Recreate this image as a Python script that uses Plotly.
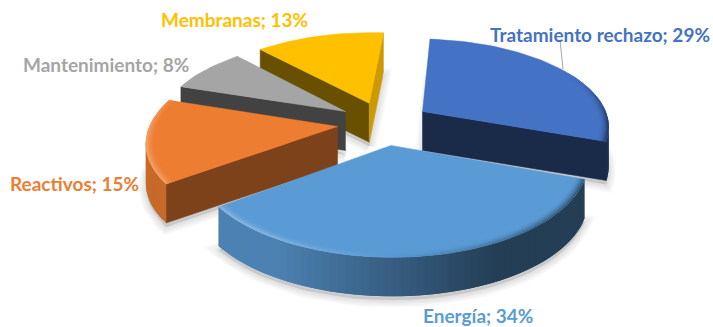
import math
import plotly.graph_objects as go

# Cost breakdown
categories = ["Tratamiento rechazo", "Energía", "Reactivos", "Mantenimiento", "Membranas"]
values = [29, 34, 15, 8, 13]

# Office palette, one colour per slice
colors = ["#4472C4", "#5B9BD5", "#ED7D31", "#A5A5A5", "#FFC000"]
# Brightness of the cut faces: (edge at slice start, edge at slice end)
cut_shades = [(0.38, 0.38), (0.5, 0.5), (0.53, 0.53), (0.40, 0.40), (0.41, 0.80)]
label_pos = [(490, 34), (423, 315), (10, 183), (23, 64), (161, 19)]

# Perspective camera for the pie plane
CX, CY = 384, 123
RX, RY = 187, 87
PERSP = 0.154
EXPLODE = 0.25
DEPTH = 39
START_DEG = 4.5
STEP_DEG = 2.0


def hex_rgb(c):
    return tuple(int(c[i:i + 2], 16) for i in (1, 3, 5))


def shade(c, f):
    # f < 1 darkens, f > 1 moves the colour towards white
    r = hex_rgb(c)
    if f <= 1:
        out = [v * f for v in r]
    else:
        out = [v + (255 - v) * min(f - 1, 1) for v in r]
    return "rgb(%d,%d,%d)" % tuple(round(v) for v in out)


def project(a, r, mid):
    ar, mr = math.radians(a), math.radians(mid)
    x = r * math.sin(ar) + EXPLODE * math.sin(mr)
    y = -r * math.cos(ar) - EXPLODE * math.cos(mr)
    w = 1 - PERSP * y
    return CX + RX * x / w, CY + RY * y / w


fig = go.Figure()


def poly(points, fill, line=None, width=0.0):
    xs = [p[0] for p in points] + [points[0][0]]
    ys = [p[1] for p in points] + [points[0][1]]
    fig.add_trace(go.Scatter(
        x=xs, y=ys, mode="lines", fill="toself", fillcolor=fill,
        line=dict(color=line or fill, width=width),
        hoverinfo="skip", showlegend=False,
    ))


def down(p):
    return p[0], p[1] + DEPTH


def side(p, q, fill, overlap=None):
    # Only faces turned towards the viewer: clockwise travel heading left.
    # The overlap point runs under the next segment so no seam shows.
    if q[0] < p[0]:
        end = overlap or q
        poly([p, q, end, down(end), down(q), down(p)], fill, fill if overlap is None else None,
             0.5 if overlap is None else 0.0)


# Angular extent of every slice, clockwise from twelve o'clock
total = sum(values)
spans = []
angle = START_DEG
for v in values:
    sweep = 360 * v / total
    spans.append((angle, angle + sweep))
    angle += sweep


def arc_angles(a0, a1):
    n = max(2, int(round((a1 - a0) / STEP_DEG)))
    return [a0 + (a1 - a0) * i / n for i in range(n + 1)]


# Soft ground shadow under the slices
for i in range(len(values)):
    a0, a1 = spans[i]
    mid = (a0 + a1) / 2
    outline = [project(a0, 0, mid)] + [project(a, 1, mid) for a in arc_angles(a0, a1)]
    base = [(x, y + DEPTH + 4) for x, y in outline]
    for k in range(1, 6):
        poly(base, "rgba(0,0,0,0.025)", "rgba(0,0,0,0.025)", width=k * 3)

# Slices back to front
order = sorted(range(len(values)),
               key=lambda i: -math.cos(math.radians(sum(spans[i]) / 2)))

for i in order:
    a0, a1 = spans[i]
    mid = (a0 + a1) / 2
    col = colors[i]
    apex = project(a0, 0, mid)
    angles = arc_angles(a0, a1)
    rim = [project(a, 1, mid) for a in angles]

    # Cut faces, then the gradient rim painted from the slice end backwards
    side(apex, rim[0], shade(col, cut_shades[i][0]))
    side(rim[-1], apex, shade(col, cut_shades[i][1]))
    for j in range(len(rim) - 2, -1, -1):
        am = math.radians((angles[j] + angles[j + 1]) / 2)
        next_pt = rim[j + 2] if j + 2 < len(rim) else None
        rim_light = max(0.40, min(0.84, 0.62 - 0.45 * math.sin(am)))
        side(rim[j], rim[j + 1], shade(col, rim_light), next_pt)

    # Top face
    poly([apex] + rim, col, col, 0.5)

    # Bevel along the rim: bright on the left, dark on the right
    layers = 5
    for l in range(layers):
        r0 = 0.955 + 0.045 * l / layers
        r1 = 0.955 + 0.045 * (l + 1) / layers
        t = ((l + 1) / layers) ** 2
        for j in range(len(angles) - 2, -1, -1):
            am = math.radians((angles[j] + angles[j + 1]) / 2)
            strength = max(0.0, min(1.0, (0.5 - math.cos(am)) / 0.6))
            if strength == 0:
                continue
            tint = max(-0.55, min(0.25, -0.45 * math.sin(am))) * strength * t
            k = min(j + 2, len(angles) - 1)
            poly([project(angles[j], r0, mid), project(angles[k], r0, mid),
                  project(angles[k], r1, mid), project(angles[j], r1, mid)],
                 shade(col, 1 + tint))

# Leader line of the first label
fig.add_trace(go.Scatter(x=[560, 563], y=[40, 69], mode="lines",
                         line=dict(color="#A6A6A6", width=1),
                         hoverinfo="skip", showlegend=False))

for cat, val, col, (lx, ly) in zip(categories, values, colors, label_pos):
    fig.add_annotation(x=lx, y=ly, xref="x", yref="y", text=f"{cat}; {val}%",
                       showarrow=False, xanchor="left", yanchor="middle",
                       xshift=-2, font=dict(family="Lato", size=19, color=col, weight=700))

fig.update_layout(
    width=713, height=327, margin=dict(l=0, r=0, t=0, b=0),
    paper_bgcolor="white", plot_bgcolor="white", showlegend=False,
    xaxis=dict(range=[0, 713], visible=False, fixedrange=True),
    yaxis=dict(range=[327, 0], visible=False, fixedrange=True),
)

fig.write_html("out.html")
